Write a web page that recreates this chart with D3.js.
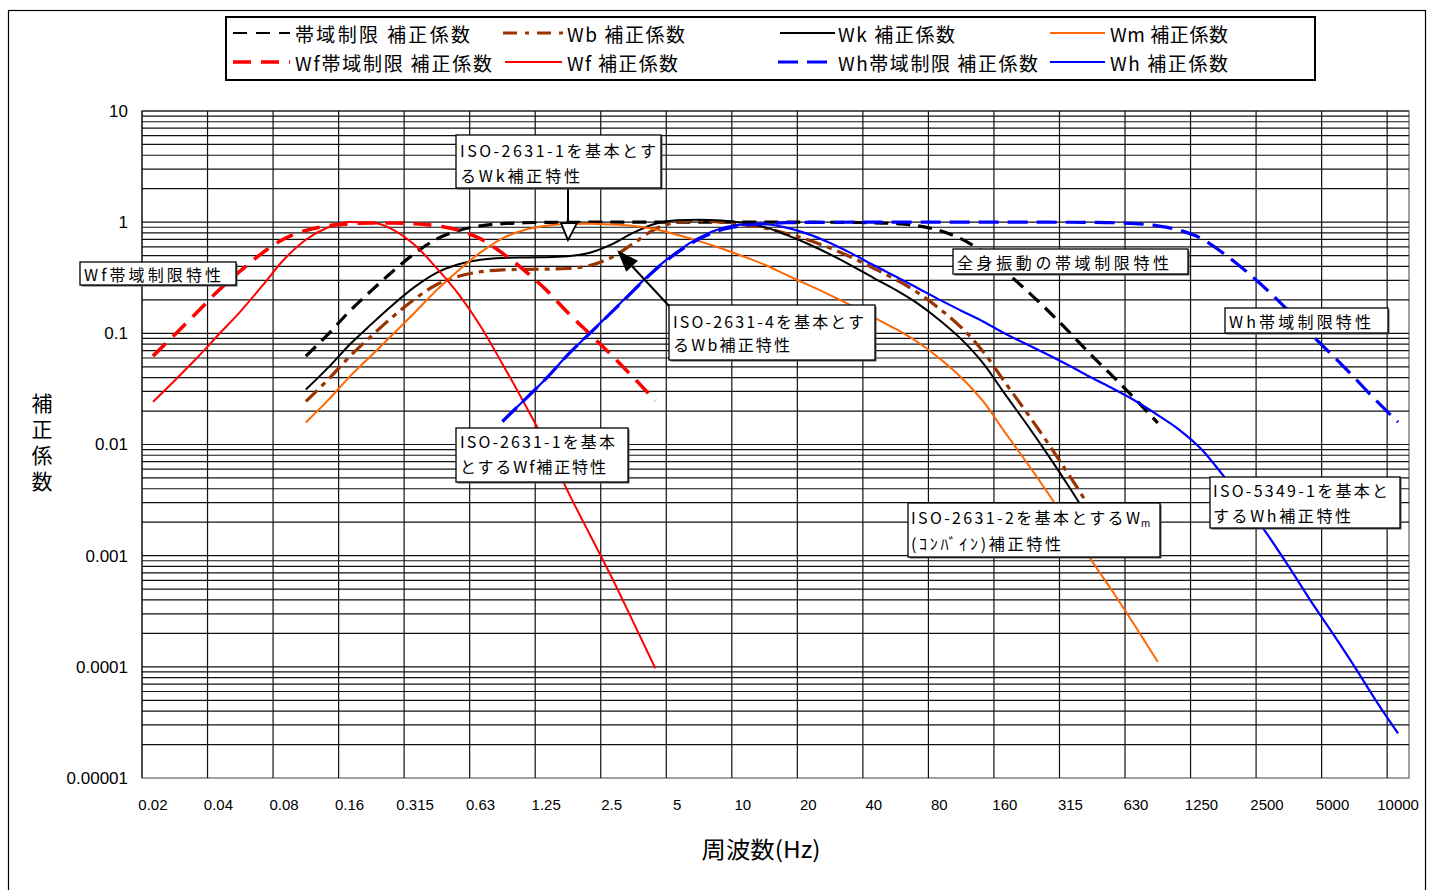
<!DOCTYPE html>
<html><head><meta charset="utf-8">
<script src="https://cdn.jsdelivr.net/npm/d3@7"></script>
<style>
body{margin:0;background:#fff;}
text{font-family:"Noto Sans CJK JP","Noto Sans",sans-serif;fill:#000;}
.num{font-family:"Liberation Sans",Arial,sans-serif;}
</style></head><body>
<svg id="chart" width="1433" height="890"></svg>
<script>
// ---- data ----
const categories = ["0.02","0.025","0.0315","0.04","0.05","0.063","0.08","0.1","0.125","0.16","0.2","0.25","0.315","0.4","0.5","0.63","0.8","1","1.25","1.6","2","2.5","3.15","4","5","6.3","8","10","12.5","16","20","25","31.5","40","50","63","80","100","125","160","200","250","315","400","500","630","800","1000","1250","1600","2000","2500","3150","4000","5000","6300","8000","10000"];
const xTickCategories = ["0.02","0.04","0.08","0.16","0.315","0.63","1.25","2.5","5","10","20","40","80","160","315","630","1250","2500","5000","10000"];
const yTickValues = [10,1,0.1,0.01,0.001,0.0001,0.00001];
const yTickLabels = ["10","1","0.1","0.01","0.001","0.0001","0.00001"];

// whole-body band limit (from 0.1 Hz)
const bandLimitStart = "0.1";
const bandLimitValues = [0.0624,0.0972,0.158,0.2425,0.364,0.527,0.707,0.842,0.928,0.970,0.988,0.995,0.998,0.999,1.0,1.0,1.0,1.0,1.0,1.0,1.0,1.0,1.0,0.999,0.998,0.995,0.988,0.970,0.929,0.842,0.707,0.539,0.364,0.2425,0.158,0.100,0.0624,0.040,0.0252,0.0156];
// Wb (from 0.1 Hz)
const wbStart = "0.1";
const wbValues = [0.0244,0.0380,0.0616,0.0946,0.142,0.205,0.275,0.326,0.358,0.372,0.376,0.378,0.383,0.408,0.482,0.646,0.869,1.001,1.030,1.001,0.952,0.886,0.792,0.691,0.585,0.481,0.384,0.305,0.233,0.167,0.113,0.0688,0.0363,0.0194,0.0101,0.0051,0.0025];
// Wk (from 0.1 Hz)
const wkStart = "0.1";
const wkValues = [0.0312,0.0486,0.079,0.121,0.182,0.263,0.352,0.418,0.459,0.477,0.482,0.484,0.494,0.531,0.631,0.804,0.967,1.039,1.054,1.036,0.988,0.902,0.768,0.636,0.513,0.405,0.314,0.246,0.186,0.132,0.0887,0.054,0.0285,0.0152,0.0079,0.00398,0.00195];
// Wm (from 0.1 Hz)
const wmStart = "0.1";
const wmValues = [0.0158,0.0248,0.0406,0.0633,0.0986,0.155,0.246,0.370,0.535,0.715,0.850,0.930,0.965,0.970,0.955,0.925,0.865,0.770,0.675,0.582,0.494,0.414,0.335,0.273,0.221,0.177,0.139,0.1095,0.0835,0.0597,0.0401,0.0245,0.0129,0.00689,0.00359,0.00181,0.000887,0.000455,0.000227,0.000111];
// Wf band limit (from 0.02 Hz)
const wfBandStart = "0.02";
const wfBandValues = [0.0624,0.0972,0.153,0.2425,0.364,0.527,0.707,0.842,0.927,0.968,0.983,0.983,0.968,0.927,0.846,0.707,0.527,0.369,0.246,0.153,0.0987,0.0634,0.040,0.0248];
// Wf (from 0.02 Hz)
const wfStart = "0.02";
const wfValues = [0.0242,0.0377,0.0597,0.0971,0.157,0.267,0.461,0.695,0.895,1.006,0.992,0.854,0.619,0.384,0.224,0.116,0.053,0.0235,0.00998,0.00377,0.00155,0.00064,0.00025,0.000097];
// Wh band limit (from 0.8 Hz)
const whBandStart = "0.8";
const whBandValues = [0.0161,0.0251,0.0392,0.0642,0.100,0.155,0.242,0.373,0.532,0.706,0.849,0.929,0.969,0.989,0.995,0.998,0.999,1.0,1.0,1.0,1.0,1.0,1.0,1.0,1.0,0.999,0.998,0.995,0.988,0.970,0.927,0.846,0.712,0.526,0.368,0.246,0.158,0.0986,0.0633,0.0399,0.0248,0.0159];
// Wh (from 0.8 Hz)
const whStart = "0.8";
const whValues = [0.0161,0.0251,0.0393,0.0644,0.1004,0.156,0.245,0.379,0.543,0.726,0.876,0.951,0.958,0.893,0.781,0.650,0.521,0.409,0.325,0.256,0.201,0.160,0.128,0.0997,0.0797,0.0637,0.0505,0.0396,0.0314,0.0245,0.0184,0.0135,0.00907,0.00524,0.00293,0.00157,0.000796,0.000392,0.000201,0.000101,0.0000492,0.0000252];

const legendLabels = ["帯域制限 補正係数","Wb 補正係数","Wk 補正係数","Wm 補正係数","Wf帯域制限 補正係数","Wf 補正係数","Wh帯域制限 補正係数","Wh 補正係数"];

// ---- chart ----
const svg = d3.select("#chart");
const P = {left:142, right:1409, top:111, bottom:778};
const x = d3.scaleBand().domain(categories).range([P.left, P.right]).padding(0);
const xc = c => x(c) + x.bandwidth()/2;
const y = d3.scaleLog().domain([1e-5, 10]).range([P.bottom, P.top]);

svg.append("rect").attr("x",0).attr("y",0).attr("width",1433).attr("height",890).attr("fill","#fff");
svg.append("rect").attr("x",8.5).attr("y",10.5).attr("width",1417).attr("height",900)
  .attr("fill","none").attr("stroke","#000").attr("stroke-width",1.2);

svg.append("rect").attr("x",P.left).attr("y",P.top).attr("width",P.right-P.left).attr("height",P.bottom-P.top)
  .attr("fill","#fff").attr("stroke","#8a8a8a").attr("stroke-width",1.6);

// horizontal grid
const hGrid = [];
for (let e=-5;e<=0;e++) for (let m=1;m<=9;m++) { if (!(e===-5&&m===1)) hGrid.push(m*Math.pow(10,e)); }
hGrid.push(10);
svg.append("g").selectAll("line").data(hGrid).join("line")
  .attr("x1",P.left).attr("x2",P.right).attr("y1",d=>y(d)).attr("y2",d=>y(d))
  .attr("stroke","#111").attr("stroke-width",1.2);
// vertical grid
svg.append("g").selectAll("line").data(categories.filter((c,i)=>i%3===0)).join("line")
  .attr("x1",d=>x(d)).attr("x2",d=>x(d)).attr("y1",P.top).attr("y2",P.bottom)
  .attr("stroke","#111").attr("stroke-width",1.2);

// series
const series = [
  {start:bandLimitStart, values:bandLimitValues, color:"#000000", width:3.2, dash:"14,8"},
  {start:wbStart, values:wbValues, color:"#993300", width:3.2, dash:"16,6,5,6"},
  {start:wkStart, values:wkValues, color:"#000000", width:2, dash:null},
  {start:wmStart, values:wmValues, color:"#FF6600", width:2, dash:null},
  {start:wfBandStart, values:wfBandValues, color:"#FF0000", width:3.6, dash:"18,10"},
  {start:wfStart, values:wfValues, color:"#FF0000", width:2, dash:null},
  {start:whBandStart, values:whBandValues, color:"#0000FF", width:3.2, dash:"20,9"},
  {start:whStart, values:whValues, color:"#0000FF", width:2.2, dash:null}
];
const line = d3.line().x(d=>xc(d.c)).y(d=>y(d.v)).curve(d3.curveMonotoneX);
series.forEach(s=>{
  const i0 = categories.indexOf(s.start);
  const pts = s.values.map((v,i)=>({c:categories[i0+i], v}));
  svg.append("path").datum(pts).attr("d",line).attr("fill","none")
    .attr("stroke",s.color).attr("stroke-width",s.width)
    .attr("stroke-dasharray",s.dash).attr("stroke-linejoin","round");
});

// axes
const yAxis = d3.axisLeft(y).tickValues(yTickValues).tickFormat((d,i)=>yTickLabels[i]).tickSize(0).tickPadding(14);
const gy = svg.append("g").attr("transform",`translate(${P.left},0)`).call(yAxis);
gy.select(".domain").remove();
gy.selectAll("text").attr("class","num").style("font-size","17px").attr("fill","#000");

const xAxis = d3.axisBottom(x).tickValues(xTickCategories).tickSize(0).tickPadding(21);
const gx = svg.append("g").attr("transform",`translate(0,${P.bottom})`).call(xAxis);
gx.select(".domain").remove();
gx.selectAll("text").attr("class","num").style("font-size","15px").attr("fill","#000");

// axis titles
svg.append("text").attr("x",761).attr("y",848).attr("text-anchor","middle").attr("dominant-baseline","central")
  .style("font-size","23px").attr("textLength",119).attr("lengthAdjust","spacingAndGlyphs").text("周波数(Hz)");
svg.append("text").attr("x",42).attr("y",393)
  .style("font-size","21px").style("writing-mode","vertical-rl").style("text-orientation","upright")
  .style("letter-spacing","5px").text("補正係数");

// legend
svg.append("rect").attr("x",226).attr("y",17).attr("width",1089).attr("height",63)
  .attr("fill","#fff").attr("stroke","#000").attr("stroke-width",2);
const legendLayout = [
  {sx:233, ex:290, tx:295, tl:175, ty:33},
  {sx:503, ex:563, tx:567, tl:118, ty:33},
  {sx:780, ex:835, tx:838, tl:117, ty:33},
  {sx:1050, ex:1105, tx:1110, tl:118, ty:33},
  {sx:233, ex:290, tx:295, tl:197, ty:62},
  {sx:505, ex:562, tx:567, tl:111, ty:62},
  {sx:778, ex:835, tx:838, tl:200, ty:62},
  {sx:1050, ex:1105, tx:1110, tl:118, ty:62}
];
legendLayout.forEach((L,i)=>{
  const s = series[i];
  svg.append("line").attr("x1",L.sx).attr("x2",L.ex).attr("y1",L.ty).attr("y2",L.ty)
    .attr("stroke",s.color).attr("stroke-width", i===0?2:s.width)
    .attr("stroke-dasharray", i===0?"14,9":(i===1?"14,8,4,8":s.dash));
  svg.append("text").attr("x",L.tx).attr("y",L.ty).attr("dominant-baseline","central")
    .style("font-size","19px").attr("textLength",L.tl).attr("lengthAdjust","spacing").text(legendLabels[i]);
});

// arrows (anchored to scales)
const tip1 = [xc("1.6"), y(0.69)];
svg.append("line").attr("x1",tip1[0]).attr("x2",tip1[0]).attr("y1",188).attr("y2",tip1[1]-15)
  .attr("stroke","#000").attr("stroke-width",2);
svg.append("path").attr("d",`M${tip1[0]-7},${tip1[1]-17} L${tip1[0]},${tip1[1]} L${tip1[0]+9},${tip1[1]-17} Z`)
  .attr("fill","#fff").attr("stroke","#000").attr("stroke-width",1.8);

const tip2 = [x("2.5")+x.bandwidth()*0.75, y(0.56)];
const tail2 = [670, 307];
{
  const dx = tail2[0]-tip2[0], dy = tail2[1]-tip2[1], L = Math.hypot(dx,dy);
  const ux = dx/L, uy = dy/L, hl = 22, hw = 8;
  const bx = tip2[0]+ux*hl, by = tip2[1]+uy*hl;
  svg.append("line").attr("x1",tail2[0]).attr("y1",tail2[1]).attr("x2",bx).attr("y2",by)
    .attr("stroke","#000").attr("stroke-width",2);
  svg.append("path").attr("d",`M${tip2[0]},${tip2[1]} L${bx-uy*hw},${by+ux*hw} L${bx+uy*hw},${by-ux*hw} Z`)
    .attr("fill","#000");
}

// annotation boxes
const notes = [
  {box:[80,262,236,285], lines:[{t:"Wf帯域制限特性", x:84, y:273.5, len:137}]},
  {box:[456,135,661,188], lines:[{t:"ISO-2631-1を基本とす", x:460, y:150, len:196},{t:"るWk補正特性", x:460, y:175, len:120}]},
  {box:[669,305,875,360], lines:[{t:"ISO-2631-4を基本とす", x:673, y:321, len:191},{t:"るWb補正特性", x:673, y:344, len:117}]},
  {box:[456,428,628,482], lines:[{t:"ISO-2631-1を基本", x:460, y:441, len:155},{t:"とするWf補正特性", x:460, y:466, len:146}]},
  {box:[953,249,1188,274], lines:[{t:"全身振動の帯域制限特性", x:957, y:261.5, len:212}]},
  {box:[1225,308,1388,333], lines:[{t:"Wh帯域制限特性", x:1229, y:320.5, len:142}]},
  {box:[908,503,1160,557], lines:[{t:"ISO-2631-2を基本とするW", x:911, y:517, len:229},{t:"(ｺﾝﾊﾞｲﾝ)補正特性", x:911, y:543, len:150}]},
  {box:[1210,477,1400,528], lines:[{t:"ISO-5349-1を基本と", x:1213, y:490, len:175},{t:"するWh補正特性", x:1213, y:515, len:138}]}
];
notes.forEach(n=>{
  const [x0,y0,x1,y1] = n.box;
  svg.append("rect").attr("x",x0+1.5).attr("y",y0+1.5).attr("width",x1-x0).attr("height",y1-y0).attr("fill","#555");
  svg.append("rect").attr("x",x0).attr("y",y0).attr("width",x1-x0).attr("height",y1-y0)
    .attr("fill","#fff").attr("stroke","#000").attr("stroke-width",1.3);
  n.lines.forEach(l=>{
    svg.append("text").attr("x",l.x).attr("y",l.y).attr("dominant-baseline","central")
      .style("font-size","16px").attr("textLength",l.len).attr("lengthAdjust","spacing").text(l.t);
  });
});
// subscript m for Wm
svg.append("text").attr("x",1141).attr("y",522).attr("dominant-baseline","central")
  .style("font-size","10px").text("m");
</script>
</body></html>
